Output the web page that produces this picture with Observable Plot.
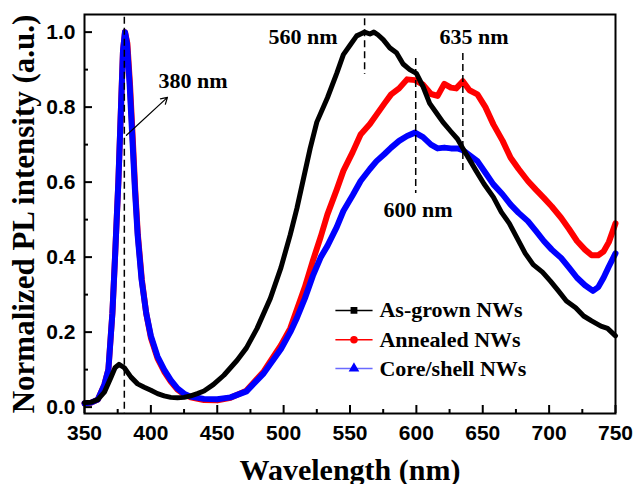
<!DOCTYPE html>
<html>
<head>
<meta charset="utf-8">
<script src="https://cdn.jsdelivr.net/npm/d3@7"></script>
<script src="https://cdn.jsdelivr.net/npm/@observablehq/plot@0.6"></script>
<style>
  html, body { margin: 0; padding: 0; background: #fff; }
  #chart svg { display: block; overflow: visible; }
</style>
</head>
<body>
<div id="chart"></div>
<script>
// ---- Data ----
const asGrownWl = [350,355,360,365,370,373,376,380,385,390,395,400,405,410,415,420,425,430,435,440,447,455,465,472,480,490,498,505,510,515,520,525,533,540,545,550,555,558,561,565,568,571,575,580,585,590,595,600,605,610,615,620,626,631,635,640,645,651,658,664,670,676,682,688,695,701,707,713,720,726,732,739,744,750];
const asGrownI  = [0.012,0.013,0.02,0.04,0.08,0.105,0.114,0.105,0.08,0.062,0.053,0.045,0.036,0.03,0.026,0.025,0.026,0.03,0.036,0.043,0.06,0.085,0.125,0.158,0.21,0.29,0.372,0.46,0.53,0.61,0.69,0.76,0.825,0.89,0.94,0.965,0.99,0.995,1.0,0.995,1.0,0.993,0.98,0.958,0.945,0.915,0.9,0.89,0.855,0.81,0.785,0.76,0.735,0.715,0.69,0.66,0.63,0.595,0.56,0.52,0.49,0.45,0.41,0.38,0.36,0.336,0.31,0.283,0.265,0.243,0.23,0.216,0.21,0.19];

const annealedWl = [350,355,360,365,368,371,373,375.5,377.5,379,380.5,382.3,384.3,386.3,388.2,390.2,393.2,396.5,400,405,410,415,420,425,430,440,450,460,472,485,498,505,510,516,522,528,533,540,545,552,558,565,570,576,581,587,593,599,605,611,616,621,626,630,635,640,646,652,658,665,671,677,684,690,696,702,709,715,721,727,732,737,741,745,750];
const annealedI  = [0.01,0.012,0.02,0.06,0.1,0.25,0.4,0.6,0.8,0.95,1.0,0.97,0.86,0.72,0.58,0.46,0.34,0.25,0.185,0.13,0.095,0.068,0.047,0.034,0.026,0.019,0.018,0.025,0.044,0.095,0.165,0.21,0.26,0.32,0.39,0.455,0.514,0.58,0.63,0.68,0.727,0.755,0.78,0.81,0.834,0.85,0.874,0.872,0.86,0.835,0.83,0.862,0.852,0.85,0.869,0.845,0.834,0.8,0.754,0.71,0.665,0.635,0.603,0.58,0.558,0.535,0.505,0.475,0.443,0.42,0.405,0.405,0.415,0.44,0.49];

const coreShellWl = [350,355,360,365,368,371,373,375.5,377.5,379,380.5,382,384,386,388,390,393,396.5,400,405,410,415,420,425,430,440,450,460,472,485,498,505,510,516,522,528,533,540,545,552,558,565,570,576,581,587,593,599,605,611,616,621,626,631,635,640,646,652,658,665,671,677,684,690,696,702,709,715,721,727,733,737,741,745,750];
const coreShellI  = [0.01,0.012,0.02,0.06,0.1,0.25,0.4,0.6,0.8,0.95,1.0,0.97,0.86,0.72,0.58,0.46,0.34,0.25,0.19,0.135,0.1,0.072,0.05,0.036,0.028,0.022,0.021,0.026,0.042,0.09,0.155,0.2,0.238,0.29,0.35,0.4,0.43,0.48,0.523,0.565,0.603,0.635,0.656,0.675,0.692,0.71,0.723,0.732,0.72,0.7,0.69,0.692,0.69,0.69,0.685,0.672,0.656,0.625,0.594,0.567,0.54,0.518,0.496,0.47,0.443,0.42,0.398,0.372,0.345,0.325,0.31,0.32,0.345,0.375,0.41];

const seriesNames = ["As-grown NWs", "Annealed NWs", "Core/shell NWs"];
const seriesColors = ["#000000", "#ff0000", "#0000ff"];
const seriesSymbols = ["square", "circle", "triangle"];

const xMajor = [350,400,450,500,550,600,650,700,750];
const xMinor = [375,425,475,525,575,625,675,725];
const yMajor = [0,0.2,0.4,0.6,0.8,1.0];
const yMinor = [0.1,0.3,0.5,0.7,0.9];

// peak annotations: wavelength and vertical extent of the dashed marker
const peakWl   = [380, 561, 599.5, 635];
const peakTop  = [1.04, 1.036, 0.93, 0.943];
const peakBot  = [-0.017, 0.887, 0.57, 0.626];
const peakText = ["380 nm", "560 nm", "600 nm", "635 nm"];
const peakTextWl = [405.7, 488.6, 575.2, 617.4];
const peakTextI  = [0.869, 0.988, 0.527, 0.988];

// ---- Build tables ----
const rows = [];
[[asGrownWl, asGrownI], [annealedWl, annealedI], [coreShellWl, coreShellI]].forEach(([wl, iv], s) => {
  wl.forEach((w, k) => rows.push({series: seriesNames[s], wl: w, v: iv[k]}));
});
const peaks = peakWl.map((w, i) => ({x: w, y1: peakTop[i], y2: peakBot[i]}));
const peakLabels = peakText.map((t, i) => ({t, x: peakTextWl[i], y: peakTextI[i]}));

const W = 635, H = 484;
const mT = 14, mR = 20, mB = 71, mL = 84;
const innerW = W - mL - mR, innerH = H - mT - mB;

// legend layout (data units)
const legendRows = [0.258, 0.18, 0.103];
const legend = seriesNames.map((n, i) => ({name: n, color: seriesColors[i], symbol: seriesSymbols[i], y: legendRows[i]}));
const legendLineColors = ["#000000", "#ff0000", "#6a6aff"];

const sansFont = "Liberation Sans, Arial, sans-serif";
const serifFont = "Liberation Serif, Times New Roman, serif";

const chart = Plot.plot({
  width: W, height: H,
  marginTop: mT, marginRight: mR, marginBottom: mB, marginLeft: mL,
  x: {domain: [350, 750], axis: null},
  y: {domain: [-0.017, 1.047], axis: null},
  style: {background: "white", overflow: "visible"},
  marks: [
    // curves: red, blue, black on top
    Plot.line(rows.filter(d => d.series === seriesNames[1]), {x: "wl", y: "v", stroke: seriesColors[1], strokeWidth: 6, strokeLinejoin: "round"}),
    Plot.line(rows.filter(d => d.series === seriesNames[2]), {x: "wl", y: "v", stroke: seriesColors[2], strokeWidth: 6, strokeLinejoin: "round"}),
    Plot.line(rows.filter(d => d.series === seriesNames[0]), {x: "wl", y: "v", stroke: seriesColors[0], strokeWidth: 5, strokeLinejoin: "round"}),
    // dashed peak markers
    Plot.ruleX(peaks, {x: "x", y1: "y1", y2: "y2", stroke: "black", strokeWidth: 1.5, strokeDasharray: "7,4"}),
    // arrow to 380 nm label
    Plot.arrow([{x1: 381.6, y1: 0.725, x2: 412.5, y2: 0.826}], {x1: "x1", y1: "y1", x2: "x2", y2: "y2", stroke: "black", strokeWidth: 1.2, headLength: 9}),
    // peak labels
    Plot.text(peakLabels, {x: "x", y: "y", text: "t", textAnchor: "start", fontSize: 22, fontWeight: "bold", fontFamily: serifFont, fill: "black"}),
    // legend
    Plot.link(legend, {x1: 539, x2: 567, y1: "y", y2: "y", stroke: (d, i) => legendLineColors[i], strokeWidth: 1.5}),
    Plot.dot(legend, {x: 553, y: "y", symbol: "symbol", fill: "color", stroke: "color", r: 3}),
    Plot.text(legend, {x: 572.2, y: "y", text: "name", textAnchor: "start", fontSize: 22, fontWeight: "bold", fontFamily: serifFont, fill: "black"}),
    // frame
    Plot.frame({stroke: "black", strokeWidth: 2}),
    // inward ticks
    Plot.ruleX(xMajor, {x: d => d, insetTop: innerH - 8, stroke: "black", strokeWidth: 2}),
    Plot.ruleX(xMinor, {x: d => d, insetTop: innerH - 4, stroke: "black", strokeWidth: 2}),
    Plot.ruleY(yMajor, {y: d => d, insetRight: innerW - 8, stroke: "black", strokeWidth: 2}),
    Plot.ruleY(yMinor, {y: d => d, insetRight: innerW - 4, stroke: "black", strokeWidth: 2}),
    // tick labels
    Plot.text(xMajor, {x: d => d, text: d => String(d), frameAnchor: "bottom", textAnchor: "middle", lineAnchor: "top", dy: 12, fontSize: 21, fontWeight: "bold", fontFamily: sansFont, fill: "black"}),
    Plot.text(yMajor, {y: d => d, text: d => d3.format(".1f")(d), frameAnchor: "left", textAnchor: "end", dx: -9, fontSize: 21, fontWeight: "bold", fontFamily: sansFont, fill: "black"}),
    // axis titles
    Plot.text(["Wavelength (nm)"], {text: d => d, frameAnchor: "bottom", textAnchor: "middle", dy: 66, fontSize: 30, fontWeight: "bold", fontFamily: serifFont, fill: "black"}),
    Plot.text(["Normalized PL intensity (a.u.)"], {text: d => d, frameAnchor: "left", textAnchor: "middle", dx: -60, rotate: -90, fontSize: 31, fontWeight: "bold", fontFamily: serifFont, fill: "black"})
  ]
});
document.getElementById("chart").appendChild(chart);
</script>
</body>
</html>
